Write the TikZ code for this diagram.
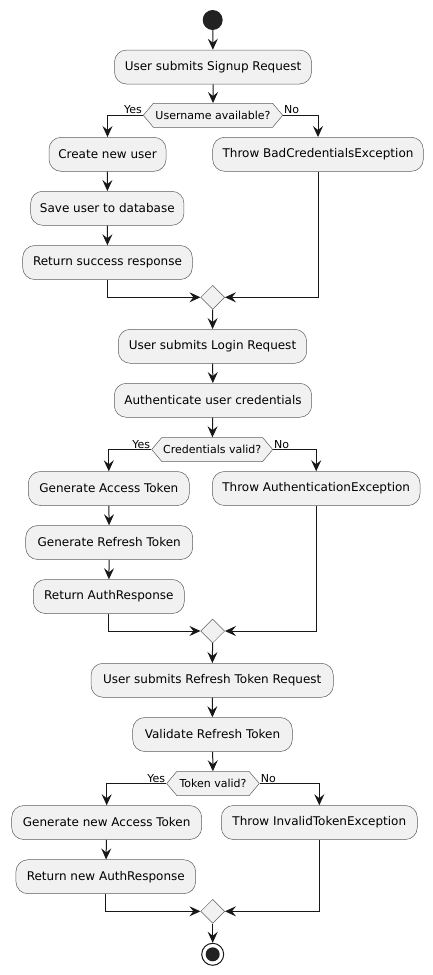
\documentclass[tikz,border=0pt]{standalone}
\usepackage{fontspec}
\setmainfont{DejaVu Sans}
\usetikzlibrary{arrows.meta,shapes.geometric,shapes.symbols}
\definecolor{actfill}{HTML}{F1F1F1}
\definecolor{actline}{HTML}{181818}
\definecolor{startc}{HTML}{222222}
\tikzset{
  act/.style={draw=actline!70, line width=0.5pt, fill=actfill, rounded corners=12pt,
    minimum height=34pt, inner sep=0pt, font=\fontsize{12}{14}\selectfont, text=black},
  hexa/.style={signal, signal to=west and east, signal pointer angle=100, draw=actline!70,
    line width=0.5pt, fill=actfill, minimum height=24pt, inner xsep=0pt, inner ysep=0pt,
    font=\fontsize{11}{13}\selectfont},
  merge/.style={diamond, draw=actline!70, line width=0.5pt, fill=actfill, minimum size=24pt, inner sep=0pt},
  flow/.style={draw=actline, line width=1pt, -{Stealth[length=11pt,width=10pt,inset=4pt]}},
  lbl/.style={font=\fontsize{11}{13}\selectfont, inner sep=1pt},
}
\begin{document}
\begin{tikzpicture}[x=1pt,y=-1pt]
\useasboundingbox (0,0) rectangle (433,975);
% start
\node[circle, fill=startc, minimum size=20pt, inner sep=0pt] (start) at (212.7,20) {};
% signup
\node[act, minimum width=197pt] (b1) at (213,67) {User submits Signup Request};
\node[hexa, minimum width=139.4pt] (d1) at (213,115.3) {Username available?};
\node[act, minimum width=117pt] (c1) at (107.5,154.3) {Create new user};
\node[act, minimum width=210.6pt] (t1) at (318,154.3) {Throw BadCredentialsException};
\node[act, minimum width=153.3pt] (s1) at (107.3,208.3) {Save user to database};
\node[act, minimum width=169.6pt] (r1) at (107.5,262.5) {Return success response};
\node[merge] (m1) at (212.7,297.3) {};
% login
\node[act, minimum width=188.4pt] (b2) at (212.5,346.3) {User submits Login Request};
\node[act, minimum width=197.4pt] (b3) at (213,400.3) {Authenticate user credentials};
\node[hexa, minimum width=121pt] (d2) at (212.2,449.5) {Credentials valid?};
\node[act, minimum width=161pt] (g1) at (108.8,488.5) {Generate Access Token};
\node[act, minimum width=207.7pt] (t2) at (316.2,488.5) {Throw AuthenticationException};
\node[act, minimum width=167pt] (g2) at (109.2,542.5) {Generate Refresh Token};
\node[act, minimum width=151pt] (r2) at (108.8,596.5) {Return AuthResponse};
\node[merge] (m2) at (212.7,631) {};
% refresh
\node[act, minimum width=242.3pt] (b4) at (212.2,680.3) {User submits Refresh Token Request};
\node[act, minimum width=159.6pt] (b5) at (212.5,734.5) {Validate Refresh Token};
\node[hexa, minimum width=92.6pt] (d3) at (213,783.5) {Token valid?};
\node[act, minimum width=190pt] (g3) at (106.7,822.5) {Generate new Access Token};
\node[act, minimum width=196pt] (t3) at (319.3,822.5) {Throw InvalidTokenException};
\node[act, minimum width=179.7pt] (r3) at (105.8,876.7) {Return new AuthResponse};
\node[merge] (m3) at (212.7,911.3) {};
% end
\node[circle, draw=actline, line width=1pt, fill=white, minimum size=22pt, inner sep=0pt] (stop) at (212.7,954.3) {};
\node[circle, fill=startc, minimum size=14pt, inner sep=0pt] (stopin) at (212.7,954.3) {};

% connectors
\draw[flow] (start) -- (b1);
\draw[flow] (b1) -- (d1);
\draw[flow] (d1.west) -| (c1.north);
\draw[flow] (d1.east) -| (t1.north);
\node[lbl, anchor=south east] (y1) at (d1.west) {Yes};
\node[lbl, anchor=south west] (n1) at (d1.east) {No};
\draw[flow] (c1) -- (s1);
\draw[flow] (s1) -- (r1);
\draw[flow] (r1.south) |- (m1.west);
\draw[flow] (t1.south) |- (m1.east);
\draw[flow] (m1) -- (b2);
\draw[flow] (b2) -- (b3);
\draw[flow] (b3) -- (d2);
\draw[flow] (d2.west) -| (g1.north);
\draw[flow] (d2.east) -| (t2.north);
\node[lbl, anchor=south east] (y2) at (d2.west) {Yes};
\node[lbl, anchor=south west] (n2) at (d2.east) {No};
\draw[flow] (g1) -- (g2);
\draw[flow] (g2) -- (r2);
\draw[flow] (r2.south) |- (m2.west);
\draw[flow] (t2.south) |- (m2.east);
\draw[flow] (m2) -- (b4);
\draw[flow] (b4) -- (b5);
\draw[flow] (b5) -- (d3);
\draw[flow] (d3.west) -| (g3.north);
\draw[flow] (d3.east) -| (t3.north);
\node[lbl, anchor=south east] (y3) at (d3.west) {Yes};
\node[lbl, anchor=south west] (n3) at (d3.east) {No};
\draw[flow] (g3) -- (r3);
\draw[flow] (r3.south) |- (m3.west);
\draw[flow] (t3.south) |- (m3.east);
\draw[flow] (m3) -- (stop);
\end{tikzpicture}
\end{document}
